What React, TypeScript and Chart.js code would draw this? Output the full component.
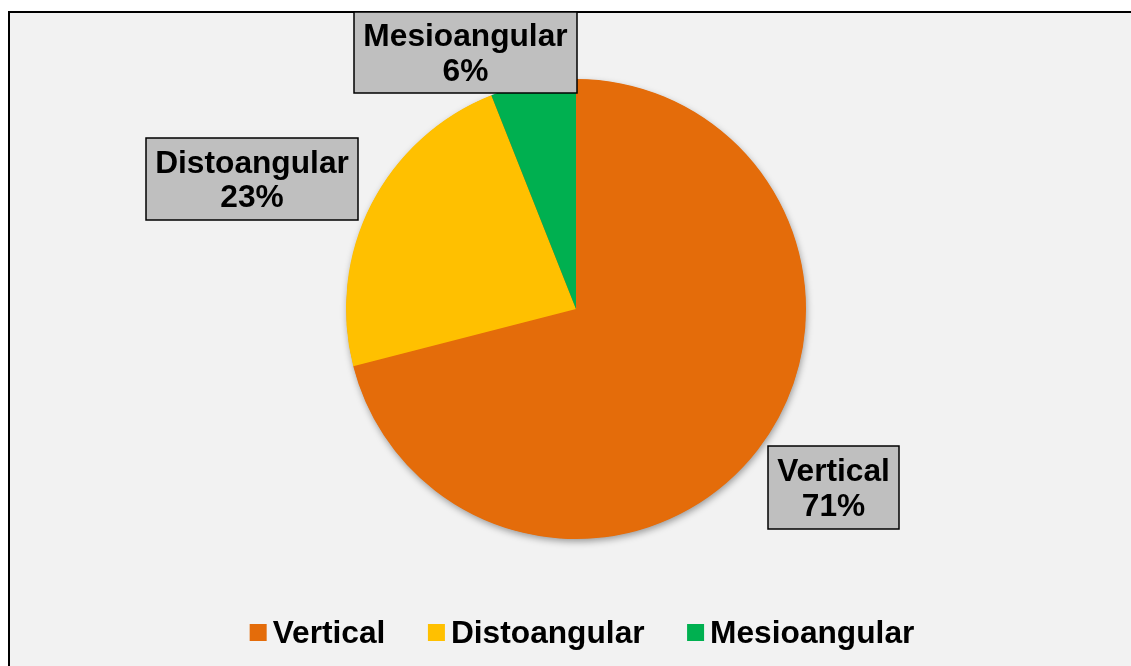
import React, { useEffect, useRef } from "react";
import { Chart, registerables } from "chart.js";

Chart.register(...registerables);

const categories = ["Vertical", "Distoangular", "Mesioangular"];
const values = [71, 23, 6];
const colors = ["#E46C0A", "#FFC000", "#00B050"];

const FONT = "bold 31.7px 'Liberation Sans', Arial, sans-serif";
const W = 1131;
const H = 666;

// data-label box layout (pixel rectangles), one per category index
const labelBoxes = [
  { x: 768, y: 446, w: 131, h: 83 },
  { x: 146, y: 138, w: 212, h: 82 },
  { x: 354, y: 12, w: 223, h: 81 },
];

const decorPlugin = {
  id: "decor",
  beforeDatasetsDraw(chart: any) {
    const arc = chart.getDatasetMeta(0).data[0];
    if (!arc) return;
    const ctx = chart.ctx;
    ctx.save();
    ctx.shadowColor = "rgba(0,0,0,0.38)";
    ctx.shadowBlur = 7;
    ctx.shadowOffsetX = 1;
    ctx.shadowOffsetY = 3;
    ctx.fillStyle = colors[0];
    ctx.beginPath();
    ctx.arc(arc.x, arc.y, arc.outerRadius - 0.5, 0, Math.PI * 2);
    ctx.fill();
    ctx.restore();
  },
  afterDraw(chart: any) {
    const ctx = chart.ctx;
    const data: number[] = chart.data.datasets[0].data;
    const labels: string[] = chart.data.labels;
    const bg: string[] = chart.data.datasets[0].backgroundColor;
    const total = data.reduce((a, b) => a + b, 0);
    ctx.save();
    ctx.font = FONT;
    ctx.textAlign = "center";
    ctx.textBaseline = "alphabetic";
    // data labels
    labels.forEach((lab, i) => {
      const b = labelBoxes[i];
      ctx.fillStyle = "#BFBFBF";
      ctx.fillRect(b.x, b.y, b.w, b.h);
      ctx.strokeStyle = "#000";
      ctx.lineWidth = 1.5;
      ctx.strokeRect(b.x, b.y, b.w, b.h);
      const cx = b.x + b.w / 2;
      const cy = b.y + b.h / 2;
      ctx.fillStyle = "#000";
      ctx.fillText(lab, cx, cy - 6.5);
      ctx.fillText(Math.round((data[i] / total) * 100) + "%", cx, cy + 28);
    });
    // legend
    const box = 17;
    const gap = 6;
    const spacing = 42.5;
    ctx.textAlign = "left";
    const widths = labels.map((l) => box + gap + ctx.measureText(l).width);
    const totalW = widths.reduce((a, b) => a + b, 0) + spacing * (labels.length - 1);
    let x = 582 - totalW / 2;
    const baseline = 643;
    labels.forEach((lab, i) => {
      ctx.fillStyle = bg[i];
      ctx.fillRect(x, 624, box, box);
      ctx.fillStyle = "#000";
      ctx.fillText(lab, x + box + gap, baseline);
      x += widths[i] + spacing;
    });
    ctx.restore();
  },
};

export default function App() {
  const ref = useRef<HTMLCanvasElement | null>(null);
  useEffect(() => {
    document.body.style.overflow = "hidden";
    if (!ref.current) return;
    const chart = new Chart(ref.current, {
      type: "pie",
      data: {
        labels: categories,
        datasets: [
          {
            data: values,
            backgroundColor: colors,
            borderWidth: 0,
          },
        ],
      },
      options: {
        responsive: false,
        animation: false,
        devicePixelRatio: 1,
        layout: { padding: { top: 79, bottom: 127, left: 121, right: 100 } },
        plugins: {
          legend: { display: false },
          tooltip: { enabled: false },
        },
      },
      plugins: [decorPlugin],
    });
    return () => chart.destroy();
  }, []);

  return (
    <div
      style={{
        position: "fixed",
        left: 0,
        top: 0,
        width: W,
        height: H,
        overflow: "hidden",
        background: "#fff",
      }}
    >
      <div
        style={{
          position: "absolute",
          left: 8,
          top: 11,
          width: 1160,
          height: 720,
          border: "2px solid #000",
          background: "#F2F2F2",
          boxSizing: "border-box",
        }}
      />
      <canvas
        ref={ref}
        width={W}
        height={H}
        style={{ position: "absolute", left: 0, top: 0, width: W, height: H }}
      />
    </div>
  );
}
